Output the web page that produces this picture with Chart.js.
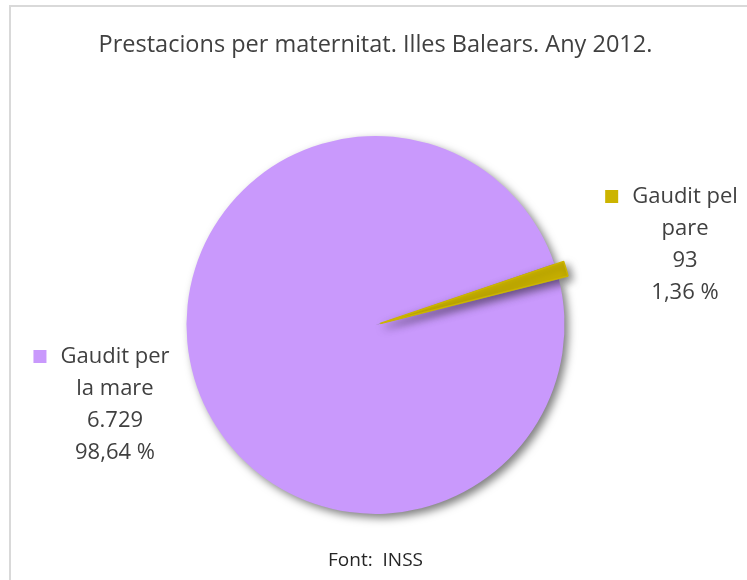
<!DOCTYPE html>
<html>
<head>
<meta charset="utf-8">
<script src="https://cdn.jsdelivr.net/npm/chart.js@4"></script>
<style>
  body { margin: 0; background: #fff; }
  #frame { position: absolute; left: 9px; top: 5px; width: 760px; height: 600px; border: 2px solid #d9d9d9; }
  #wrap { position: absolute; left: 0; top: 0; width: 747px; height: 580px; }
</style>
</head>
<body>
<div id="frame"></div>
<div id="wrap"><canvas id="pieChart" width="747" height="580"></canvas></div>
<script>
const categories = [['Gaudit per', 'la mare'], ['Gaudit pel', 'pare']]
const values = [6729, 93]
const colors = ['#C999FC', '#CCB400']

const textColor = '#404040'
const fontFamily = "'Open Sans', 'Noto Sans', sans-serif"

// where each label block sits (centre x of the text lines, centre y of first line)
const labelPos = [{x: 115, y: 357}, {x: 685, y: 197}]

function fmtNumber(n) {
    return String(n).replace(/\B(?=(\d{3})+(?!\d))/g, '.')
}

function fmtPercent(n, total) {
    return (n / total * 100).toFixed(2).replace('.', ',') + ' %'
}

const shadowPlugin = {
    id: 'shadow',
    beforeDatasetsDraw(chart) {
        const ctx = chart.ctx
        ctx.save()
        ctx.shadowColor = 'rgba(0,0,0,0.5)'
        ctx.shadowBlur = 8
        ctx.shadowOffsetX = 4
        ctx.shadowOffsetY = 4
    },
    afterDatasetsDraw(chart) {
        chart.ctx.restore()
    }
}

const labelPlugin = {
    id: 'sliceLabels',
    afterDraw(chart) {
        const ctx = chart.ctx
        const ds = chart.data.datasets[0]
        const total = ds.data.reduce((a, b) => a + b, 0)
        ctx.save()
        ctx.font = '22px ' + fontFamily
        ctx.fillStyle = textColor
        ctx.textBaseline = 'middle'
        ctx.textAlign = 'center'
        chart.data.labels.forEach((lbl, i) => {
            const lines = lbl.concat([fmtNumber(ds.data[i]), fmtPercent(ds.data[i], total)])
            const p = labelPos[i]
            lines.forEach((line, j) => {
                ctx.fillText(line, p.x, p.y + j * 32)
            })
            const w = ctx.measureText(lines[0]).width
            ctx.fillStyle = ds.backgroundColor[i]
            ctx.fillRect(p.x - w / 2 - 27, p.y - 7, 13, 13)
            ctx.fillStyle = textColor
        })
        ctx.restore()
    }
}

const ctx = document.getElementById('pieChart').getContext('2d')
new Chart(ctx, {
    type: 'pie',
    data: {
        labels: categories,
        datasets: [{
            data: values,
            backgroundColor: colors,
            borderColor: colors,
            borderWidth: [0, 1.5],
            offset: [0, 20]
        }]
    },
    options: {
        responsive: false,
        animation: false,
        rotation: 76,
        radius: 189,
        layout: { padding: { left: 4, right: 0, top: 0, bottom: 0 } },
        plugins: {
            legend: { display: false },
            tooltip: { enabled: false },
            title: {
                display: true,
                text: 'Prestacions per maternitat. Illes Balears. Any 2012.',
                color: textColor,
                font: { family: fontFamily, size: 23.5, weight: 'normal' },
                padding: { top: 31, bottom: 49 }
            },
            subtitle: {
                display: true,
                position: 'bottom',
                text: 'Font:  INSS',
                color: '#262626',
                font: { family: fontFamily, size: 19, weight: 'normal' },
                padding: { top: 8, bottom: 7.6 }
            }
        }
    },
    plugins: [shadowPlugin, labelPlugin]
})
</script>
</body>
</html>
